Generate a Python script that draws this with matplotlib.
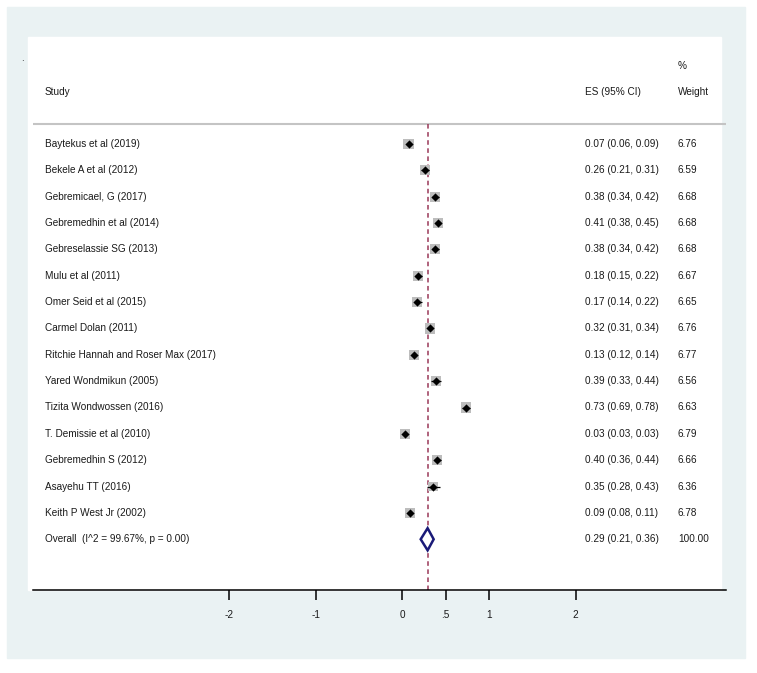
import matplotlib.pyplot as plt
import matplotlib.patches as mpatches
import numpy as np

plt.rcParams['font.family'] = ['Liberation Sans', 'DejaVu Sans']

# ---------------------------------------------------------------- data
studies = ["Baytekus et al (2019)", "Bekele A et al (2012)", "Gebremicael, G (2017)",
           "Gebremedhin et al (2014)", "Gebreselassie SG (2013)", "Mulu et al (2011)",
           "Omer Seid et al (2015)", "Carmel Dolan (2011)", "Ritchie Hannah and Roser Max (2017)",
           "Yared Wondmikun (2005)", "Tizita Wondwossen (2016)", "T. Demissie et al (2010)",
           "Gebremedhin S (2012)", "Asayehu TT (2016)", "Keith P West Jr (2002)"]
es = [0.07, 0.26, 0.38, 0.41, 0.38, 0.18, 0.17, 0.32, 0.13, 0.39, 0.73, 0.03, 0.40, 0.35, 0.09]
lo = [0.06, 0.21, 0.34, 0.38, 0.34, 0.15, 0.14, 0.31, 0.12, 0.33, 0.69, 0.03, 0.36, 0.28, 0.08]
hi = [0.09, 0.31, 0.42, 0.45, 0.42, 0.22, 0.22, 0.34, 0.14, 0.44, 0.78, 0.03, 0.44, 0.43, 0.11]
weight = [6.76, 6.59, 6.68, 6.68, 6.68, 6.67, 6.65, 6.76, 6.77, 6.56, 6.63, 6.79, 6.66, 6.36, 6.78]

overall_label = "Overall  (I^2 = 99.67%, p = 0.00)"
overall_es, overall_lo, overall_hi, overall_w = 0.29, 0.21, 0.36, 100.00

xticks = [-2, -1, 0, 0.5, 1, 2]
xticklabels = ["-2", "-1", "0", ".5", "1", "2"]

# ---------------------------------------------------------------- figure
W, H = 757, 673
fig = plt.figure(figsize=(W / 100, H / 100), dpi=100)

# outer graph region and inner white plot region
fig.patches.append(mpatches.Rectangle((7 / W, 15 / H), 738 / W, 651 / H,
                                      transform=fig.transFigure, color='#eaf2f3', zorder=-10))
fig.patches.append(mpatches.Rectangle((28 / W, 83 / H), 693 / W, 553 / H,
                                      transform=fig.transFigure, color='white', zorder=-9))
fig.text(22 / W, 1 - 58 / H, ".", fontsize=7, color='#222222', ha='center', va='center')

ax = fig.add_axes([33 / W, 83 / H, 693 / W, 553 / H])
ax.set_zorder(1)
ax.set_facecolor('none')

px_per_unit = 86.6
x0_px = 402.5
ax.set_xlim((33 - x0_px) / px_per_unit, (726 - x0_px) / px_per_unit)
row_px = 26.35
row0_px = 144
ax.set_ylim((590 - row0_px) / row_px, (37 - row0_px) / row_px)

rows = np.arange(len(studies))
overall_row = len(studies)

# header
txt = dict(fontsize=7.2, color='#1a1a1a', va='center')
x_study = (45 - x0_px) / px_per_unit
x_es = (585 - x0_px) / px_per_unit
x_w = (678 - x0_px) / px_per_unit
ax.text(x_study, -1.97, "Study", **txt)
ax.text(x_es, -1.97, "ES (95% CI)", **txt)
ax.text(x_w, -1.97, "Weight", **txt)
ax.text(x_w, -2.96, "%", **txt)
ax.axhline(-0.76, color='#c4c4c4', lw=1.5, zorder=1)

# reference line at overall estimate
ax.vlines(overall_es, -0.76, (590 - row0_px) / row_px, colors='#9a3858',
          lw=1.1, linestyles=(0, (3, 2.3)), zorder=2)

# study boxes, CIs and point estimates
side = 7.3 * np.sqrt(np.array(weight) / 6.76)
ax.scatter(es, rows, marker='s', s=side ** 2, color='#bdbdbd', linewidths=0, zorder=3)
ax.hlines(rows, lo, hi, colors='black', lw=0.9, zorder=4)
ax.scatter(es, rows, marker='D', s=4.2 ** 2, color='black', linewidths=0, zorder=5)

# overall diamond
h = 0.42
ax.fill([overall_lo, overall_es, overall_hi, overall_es],
        [overall_row, overall_row - h, overall_row, overall_row + h],
        facecolor='white', edgecolor='#1a1a78', lw=1.8, zorder=5)

# row texts
for i, name in enumerate(studies):
    ax.text(x_study, i, name, **txt)
    ax.text(x_es, i, f"{es[i]:.2f} ({lo[i]:.2f}, {hi[i]:.2f})", **txt)
    ax.text(x_w, i, f"{weight[i]:.2f}", **txt)
ax.text(x_study, overall_row, overall_label, **txt)
ax.text(x_es, overall_row, f"{overall_es:.2f} ({overall_lo:.2f}, {overall_hi:.2f})", **txt)
ax.text(x_w, overall_row, f"{overall_w:.2f}", **txt)

# axis
for s in ['top', 'left', 'right']:
    ax.spines[s].set_visible(False)
ax.spines['bottom'].set_linewidth(1.1)
ax.spines['bottom'].set_color('black')
ax.set_yticks([])
ax.set_xticks(xticks)
ax.set_xticklabels(xticklabels)
ax.tick_params(axis='x', direction='out', length=7.5, width=1.1, pad=7,
               labelsize=7.2, labelcolor='#1a1a1a')

fig.savefig("out.png", dpi=100)
